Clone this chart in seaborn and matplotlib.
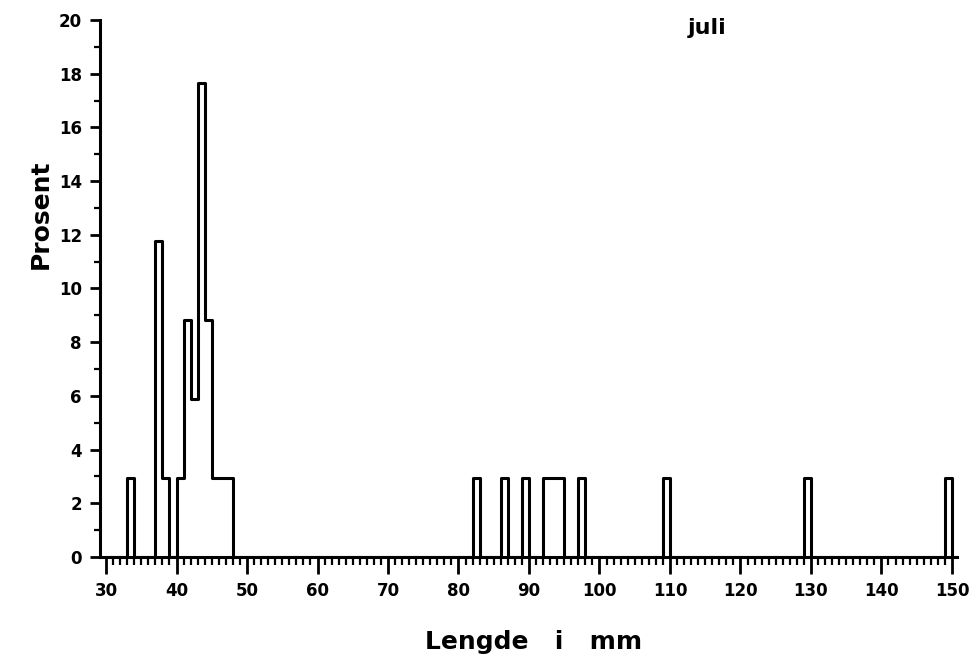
import numpy as np
import pandas as pd
import matplotlib
matplotlib.use("Agg")
import matplotlib.pyplot as plt
from matplotlib.ticker import MultipleLocator
import seaborn as sns

# Length classes (mm) and number of fish in each 1 mm class, July sample
lengths = [33, 37, 38, 40, 41, 42, 43, 44, 45, 46, 47,
           82, 86, 89, 92, 93, 94, 97, 109, 129, 149]
counts = [1, 4, 1, 1, 3, 2, 6, 3, 1, 1, 1,
          1, 1, 1, 1, 1, 1, 1, 1, 1, 1]

x_ticks = [30, 40, 50, 60, 70, 80, 90, 100, 110, 120, 130, 140, 150]
y_ticks = [0, 2, 4, 6, 8, 10, 12, 14, 16, 18, 20]
month = "juli"

sns.set_style("ticks")
plt.rcParams["font.family"] = ["DejaVu Sans"]
plt.rcParams["text.color"] = "black"
plt.rcParams["axes.labelcolor"] = "black"
plt.rcParams["xtick.color"] = "black"
plt.rcParams["ytick.color"] = "black"

df = pd.DataFrame({"lengde": lengths, "antall": counts})

fig = plt.figure(figsize=(9.77, 6.57), dpi=100)
ax = fig.add_axes([0.1024, 0.1522, 0.877, 0.8174])

sns.histplot(data=df, x="lengde", weights="antall", binwidth=1,
             binrange=(30, 152), stat="percent", element="step", fill=False,
             color="black", linewidth=2.2, ax=ax)

ax.set_xlim(29.15, 150.7)
ax.set_ylim(0, 20)
ax.set_xticks(x_ticks)
ax.set_yticks(y_ticks)
ax.xaxis.set_minor_locator(MultipleLocator(1))
ax.yaxis.set_minor_locator(MultipleLocator(1))

for side in ("left", "bottom"):
    ax.spines[side].set_linewidth(2.2)
    ax.spines[side].set_color("black")
sns.despine(ax=ax)

ax.tick_params(axis="both", which="major", width=2, color="black",
               labelcolor="black", labelsize=12, pad=6)
ax.tick_params(axis="x", which="major", length=12)
ax.tick_params(axis="y", which="major", length=7)
ax.tick_params(axis="x", which="minor", length=6, width=1.6)
ax.tick_params(axis="y", which="minor", length=4, width=1.6)
for lab in ax.get_xticklabels() + ax.get_yticklabels():
    lab.set_fontweight("bold")

ax.set_xlabel("Lengde   i   mm", fontsize=18, fontweight="bold", color="black",
              va="center", ha="center")
ax.xaxis.set_label_coords(0.506, -0.158)
ax.set_ylabel("Prosent", fontsize=18, fontweight="bold", color="black",
              va="center", ha="center")
ax.yaxis.set_label_coords(-0.069, 0.639)

ax.text(0.708, 0.985, month, transform=ax.transAxes, fontsize=16,
        fontweight="bold", ha="center", va="center", color="black")

fig.savefig("out.png", dpi=100)
